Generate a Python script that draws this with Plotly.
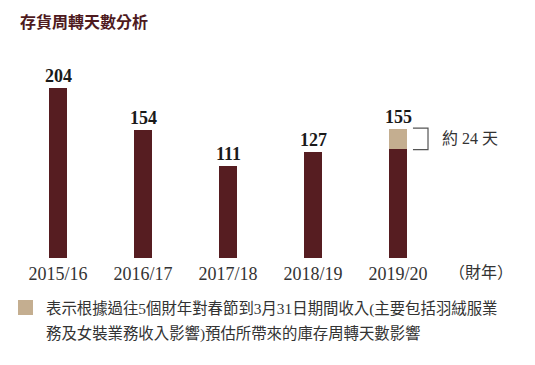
import plotly.graph_objects as go

categories = ["2015/16", "2016/17", "2017/18", "2018/19", "2019/20"]
base_days = [204, 154, 111, 127, 131]
holiday_days = [0, 0, 0, 0, 24]
totals = [204, 154, 111, 127, 155]

DARK = "#561d21"
BEIGE = "#c4ae90"
TEXT = "#333333"
SERIF = "Liberation Serif, 'Noto Sans CJK TC', serif"

W, H = 535, 365
OFF = 8  # page body margin
PLOT_BOTTOM = 258 - OFF  # figure pixel y of baseline
x_idx = list(range(len(categories)))

fig = go.Figure()
fig.add_trace(go.Bar(x=x_idx, y=base_days, marker_color=DARK, width=0.21,
                     marker_line_width=0, showlegend=False))
fig.add_trace(go.Bar(x=x_idx, y=holiday_days, marker_color=BEIGE, width=0.21,
                     marker_line_width=0, showlegend=False))

def py(p):
    return (PLOT_BOTTOM - (p - OFF)) / PLOT_BOTTOM

def px(p):
    return (p - OFF) / W

anns = []
for i, t in enumerate(totals):
    anns.append(dict(x=i, y=t, xref="x", yref="y", text=f"<b>{t}</b>", showarrow=False,
                     yanchor="bottom", yshift=0, font=dict(family=SERIF, size=18, color="#1a1a1a")))

last = len(categories) - 1
# bracket for holiday effect
fig.add_shape(type="path", xref="x", yref="y",
              path=f"M {last+0.176},{totals[last]+1} L {last+0.353},{totals[last]+1} "
                   f"L {last+0.353},{base_days[last]-1} L {last+0.176},{base_days[last]-1}",
              line=dict(color="#555555", width=1.2))
anns.append(dict(x=last + 0.49, y=base_days[last] + holiday_days[last] / 2, xref="x", yref="y",
                 text=f"約 {holiday_days[last]} 天", showarrow=False, xanchor="left", yanchor="middle",
                 font=dict(family=SERIF, size=16, color=TEXT)))

# title
anns.append(dict(x=px(18), y=py(22), xref="paper", yref="paper", text="<b>存貨周轉天數分析</b>",
                 showarrow=False, xanchor="left", yanchor="middle",
                 font=dict(family=SERIF, size=16, color="#4e1a1e")))
# fiscal year unit
anns.append(dict(x=px(447), y=py(272), xref="paper", yref="paper", text="（財年）",
                 showarrow=False, xanchor="left", yanchor="middle",
                 font=dict(family=SERIF, size=16, color=TEXT)))
# legend
fig.add_shape(type="rect", xref="paper", yref="paper", x0=px(18), x1=px(33),
              y0=py(315), y1=py(300), fillcolor=BEIGE, line_width=0)
anns.append(dict(x=px(44), y=py(308), xref="paper", yref="paper",
                 text="表示根據過往5個財年對春節到3月31日期間收入(主要包括羽絨服業",
                 showarrow=False, xanchor="left", yanchor="middle",
                 font=dict(family=SERIF, size=15.4, color=TEXT)))
anns.append(dict(x=px(44), y=py(333), xref="paper", yref="paper",
                 text="務及女裝業務收入影響)預估所帶來的庫存周轉天數影響",
                 showarrow=False, xanchor="left", yanchor="middle",
                 font=dict(family=SERIF, size=15.4, color=TEXT)))

fig.update_layout(
    width=W, height=H, barmode="stack", bargap=0,
    margin=dict(l=0, r=0, t=0, b=H - PLOT_BOTTOM),
    paper_bgcolor="white", plot_bgcolor="white",
    annotations=anns,
    xaxis=dict(range=[-(58 - OFF) / 85, (W - (58 - OFF)) / 85], tickmode="array", tickvals=x_idx,
               ticktext=categories, showgrid=False, zeroline=False, showline=False,
               ticks="", tickfont=dict(family=SERIF, size=18, color=TEXT), ticklabelstandoff=3),
    yaxis=dict(range=[0, PLOT_BOTTOM / 0.833], visible=False),
)

fig.write_html("out.html")
